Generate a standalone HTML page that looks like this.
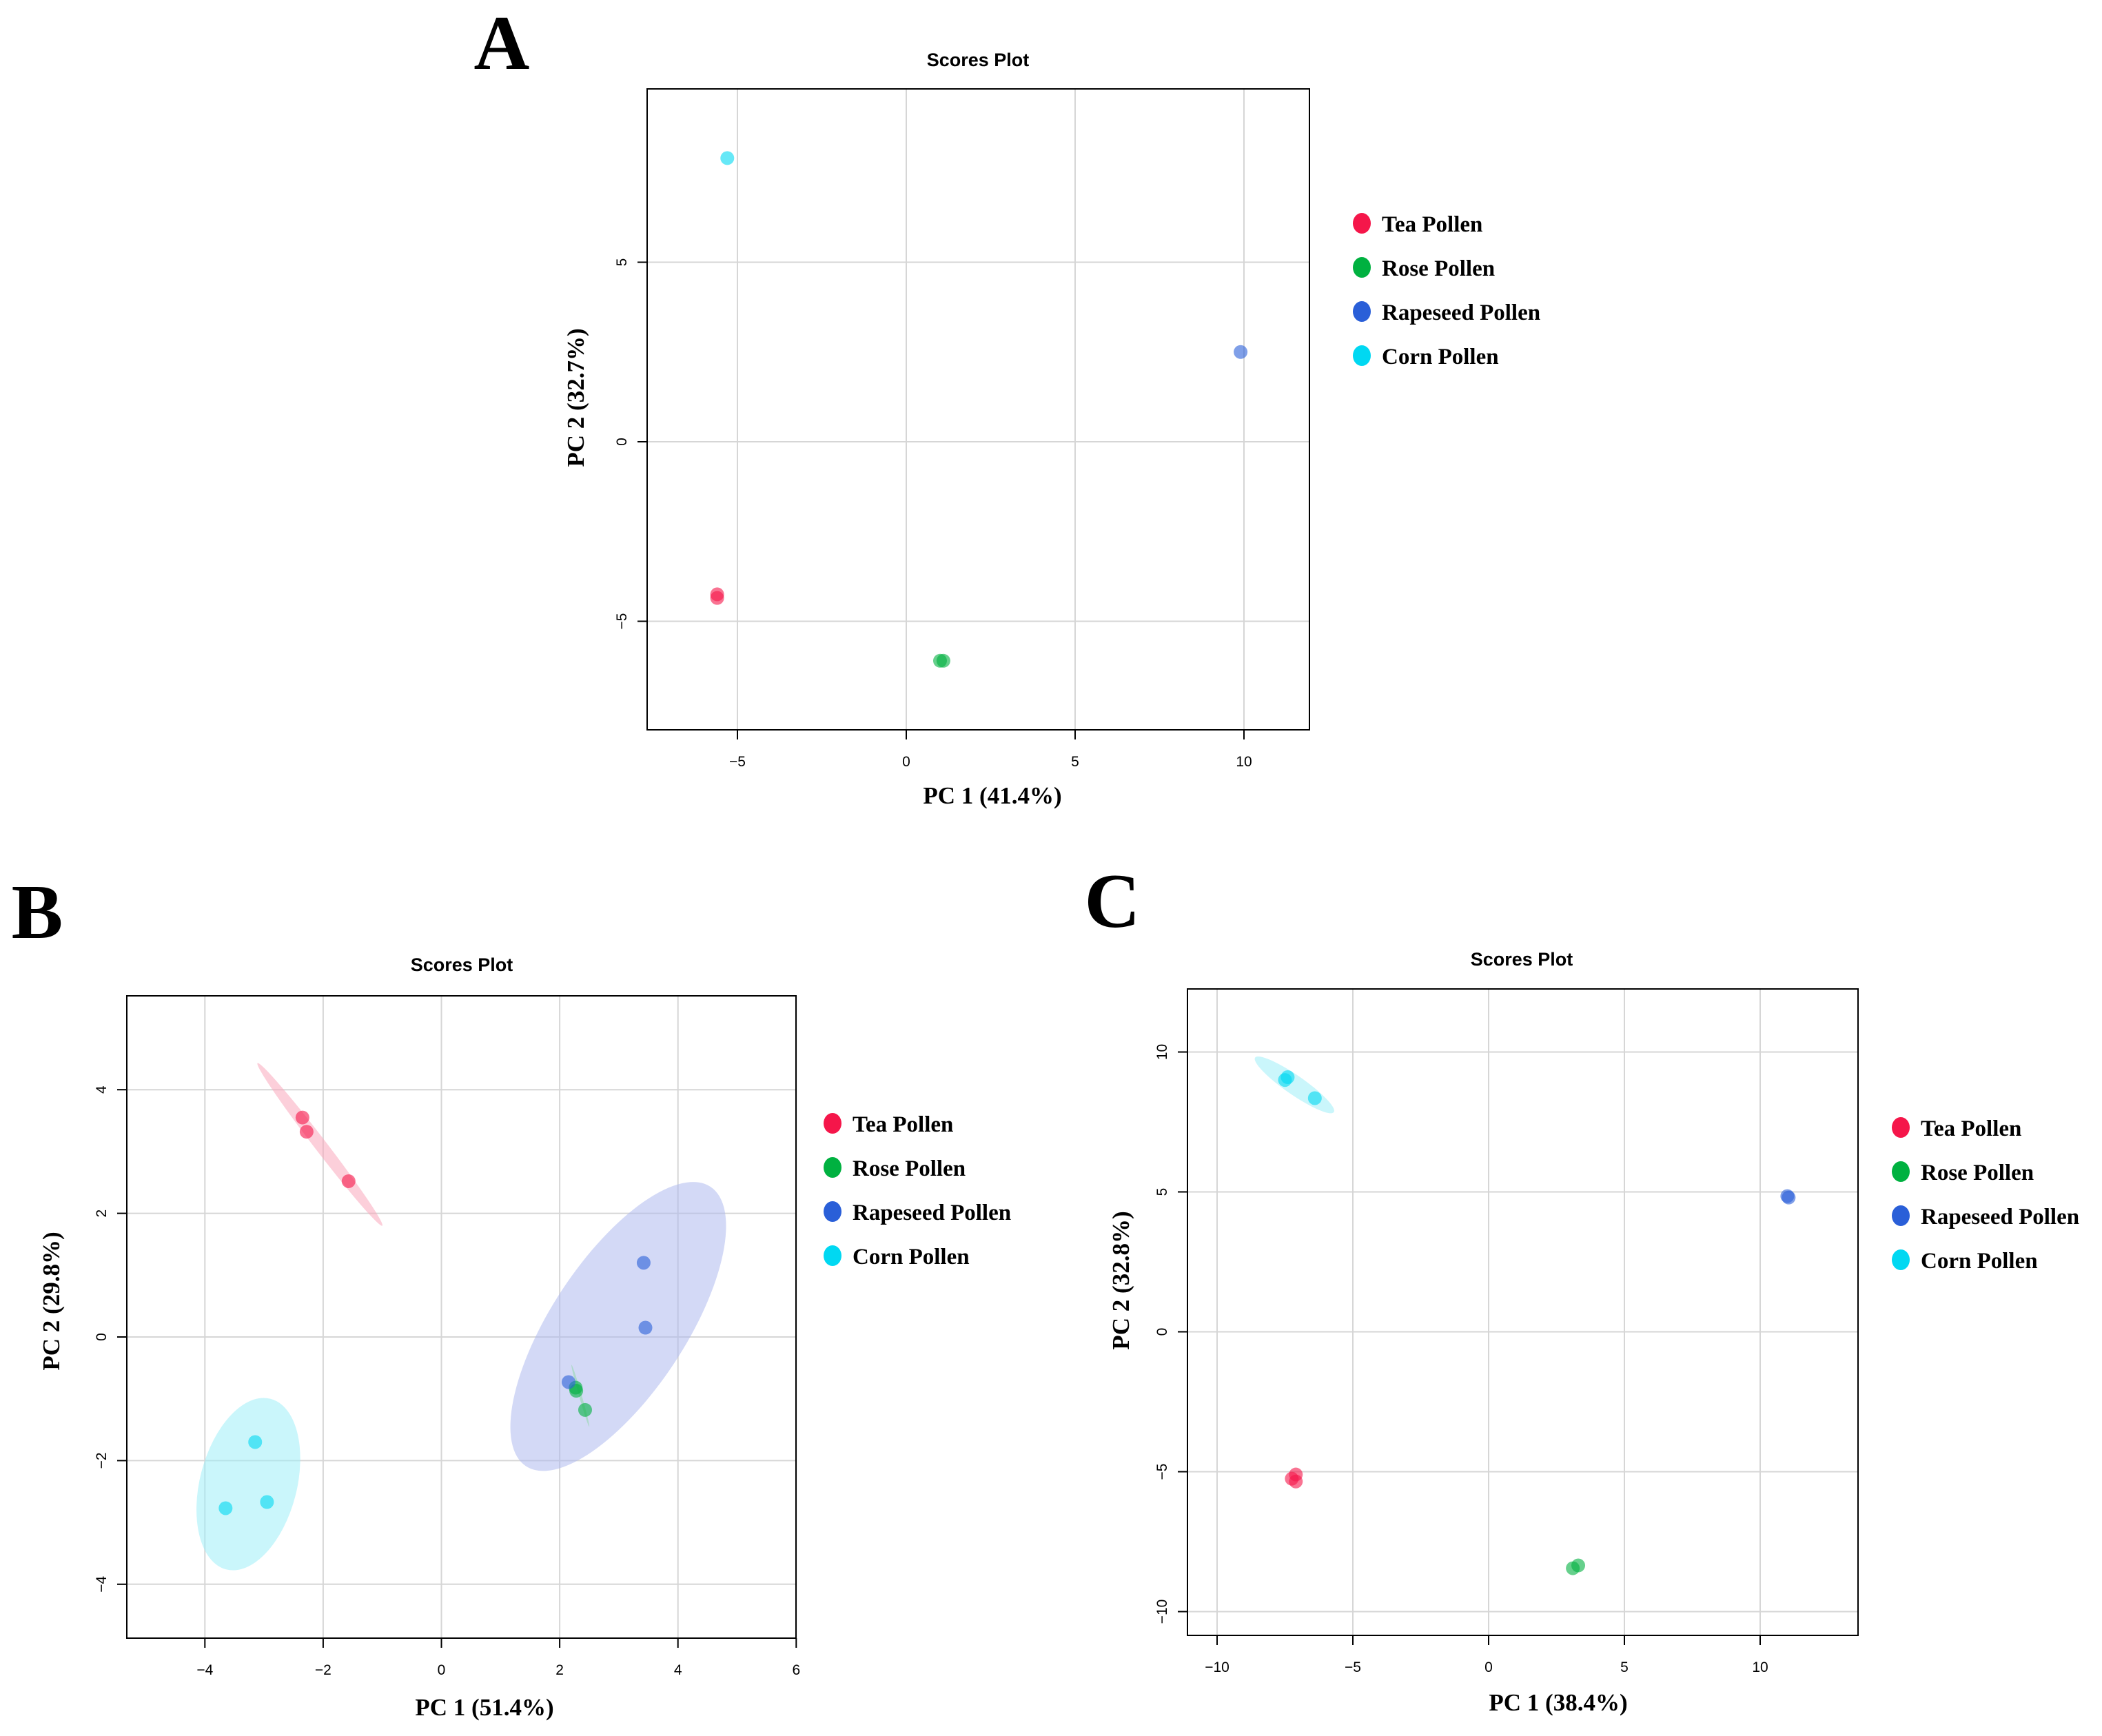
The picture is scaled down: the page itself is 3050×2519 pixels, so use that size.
<!DOCTYPE html>
<html><head><meta charset="utf-8"><style>
body{margin:0;background:#fff;}
svg{display:block;}
.tick{font-family:"Liberation Sans",sans-serif;font-size:21px;fill:#000;}
.ttl{font-family:"Liberation Sans",sans-serif;font-size:27px;font-weight:bold;fill:#000;}
.ax{font-family:"Liberation Serif",serif;font-size:35px;font-weight:bold;fill:#000;}
.leg{font-family:"Liberation Serif",serif;font-size:33px;font-weight:bold;fill:#000;}
.pl{font-family:"Liberation Serif",serif;font-size:112px;font-weight:bold;fill:#000;}
</style></head><body>
<svg id="fig" width="3050" height="2519" xmlns="http://www.w3.org/2000/svg"><g id="root" transform="translate(-3 -4)"></g></svg>
<script>
const groups = ["Tea Pollen","Rose Pollen","Rapeseed Pollen","Corn Pollen"];
const colors = ["#f5164a","#00b140","#2a5fd8","#00d8f2"];
const fills = ["#f9a8bc","#8fd8a8","#aeb9ee","#9eeef8"];

// Panel A data
const aTicksX = [-5,0,5,10];
const aTicksY = [-5,0,5];
const aTea = [[-5.6,-4.25],[-5.6,-4.35]];
const aRose = [[1.0,-6.1],[1.1,-6.1]];
const aRape = [[9.9,2.5]];
const aCorn = [[-5.3,7.9]];

// Panel B data
const bTicksX = [-4,-2,0,2,4,6];
const bTicksY = [-4,-2,0,2,4];
const bTea = [[-2.35,3.55],[-2.28,3.32],[-1.57,2.52]];
const bRose = [[2.27,-0.82],[2.28,-0.87],[2.43,-1.18]];
const bRape = [[3.42,1.2],[3.45,0.15],[2.15,-0.73]];
const bCorn = [[-3.15,-1.7],[-2.95,-2.67],[-3.65,-2.77]];
// ellipses: [group, x1,y1,x2,y2 (major-axis ends in data), minor/major ratio]
const bEllipses = [[2,4.55,2.43,1.43,-2.09,0.4],[0,-3.11,4.43,-1.0,1.8,0.06],[3,-2.89,-1.0,-3.64,-3.76,0.55],[1,2.2,-0.45,2.5,-1.45,0.04]];

// Panel C data
const cTicksX = [-10,-5,0,5,10];
const cTicksY = [-10,-5,0,5,10];
const cTea = [[-7.1,-5.1],[-7.25,-5.25],[-7.1,-5.35]];
const cRose = [[3.3,-8.35],[3.1,-8.45]];
const cRape = [[11.05,4.8],[11.0,4.85]];
const cCorn = [[-7.4,9.1],[-7.5,9.0],[-6.4,8.35]];
const cEllipses = [[3,-8.6,9.8,-5.7,7.85,0.2]];

const NS="http://www.w3.org/2000/svg";
const svg=document.getElementById('root');
function mk(tag,attrs,parent,text){const e=document.createElementNS(NS,tag);for(const k in attrs)e.setAttribute(k,attrs[k]);if(text!==undefined)e.textContent=text;(parent||svg).appendChild(e);return e;}

function panel(cfg){
  const g=mk('g',{});
  
  
  const X=v=>cfg.x0+cfg.sx*v, Y=v=>cfg.y0-cfg.sy*v;
  const [L,R,T,B]=cfg.box;
  cfg.tx.forEach(v=>{const l=mk('line',{x1:X(v),x2:X(v),y1:T,y2:B,stroke:'#d6d6d6','stroke-width':2},g);
    });
  cfg.ty.forEach(v=>{const l=mk('line',{x1:L,x2:R,y1:Y(v),y2:Y(v),stroke:'#d6d6d6','stroke-width':2},g);
    });
  (cfg.ell||[]).forEach(e=>{
    const x1=X(e[1]),y1=Y(e[2]),x2=X(e[3]),y2=Y(e[4]);
    const cx=(x1+x2)/2,cy=(y1+y2)/2,a=Math.hypot(x2-x1,y2-y1)/2,ang=Math.atan2(y2-y1,x2-x1)*180/Math.PI;
    const el=mk('ellipse',{cx:cx,cy:cy,rx:a,ry:Math.max(a*e[5],2),fill:fills[e[0]],'fill-opacity':0.55,transform:`rotate(${ang} ${cx} ${cy})`},g);
    
    
  });
  cfg.series.forEach((s,i)=>s.forEach(p=>{
    const c=mk('circle',{cx:X(p[0]),cy:Y(p[1]),r:10,fill:colors[i],'fill-opacity':0.6},g);
    
    
  }));
  const bx=mk('rect',{x:L,y:T,width:R-L,height:B-T,fill:'none',stroke:'#000','stroke-width':2},g);
  
  cfg.tx.forEach(v=>{mk('line',{x1:X(v),x2:X(v),y1:B,y2:B+14,stroke:'#000','stroke-width':2},g);
    const t=mk('text',{x:X(v),y:B+53,'text-anchor':'middle',class:'tick'},g,String(v).replace('-','−'));
    });
  cfg.ty.forEach(v=>{mk('line',{x1:L,x2:L-14,y1:Y(v),y2:Y(v),stroke:'#000','stroke-width':2},g);
    const t=mk('text',{x:0,y:0,'text-anchor':'middle',class:'tick',transform:`translate(${L-30} ${Y(v)}) rotate(-90)`},g,String(v).replace('-','−'));
    });
  const tt=mk('text',{x:cfg.title[0],y:cfg.title[1],'text-anchor':'middle',class:'ttl'},g,'Scores Plot');
  
  const xt=mk('text',{x:cfg.xl[0],y:cfg.xl[1],'text-anchor':'middle',class:'ax'},g,cfg.xlab);
  
  const yt=mk('text',{x:0,y:0,'text-anchor':'middle',class:'ax',transform:`translate(${cfg.yl[0]} ${cfg.yl[1]}) rotate(-90)`},g,cfg.ylab);
  
  const pl=mk('text',{x:cfg.lab[0],y:cfg.lab[1],'text-anchor':'middle',class:'pl'},g,cfg.id);
  
  groups.forEach((n,i)=>{
    const lg=mk('g',{},g);
    
    const y=cfg.leg[1]+i*cfg.leg[2];
    mk('ellipse',{cx:cfg.leg[0],cy:y,rx:13,ry:15,fill:colors[i]},lg);
    mk('text',{x:cfg.leg[0]+29,y:y+12,class:'leg'},lg,n);
  });
}

panel({id:'A',box:[942,1903,133,1063],x0:1318,sx:49,y0:645,sy:52.1,tx:aTicksX,ty:aTicksY,
  series:[aTea,aRose,aRape,aCorn],title:[1422,100],xl:[1443,1170],xlab:'PC 1 (41.4%)',yl:[850,581],ylab:'PC 2 (32.7%)',
  lab:[731,104],leg:[1979,328,64]});
panel({id:'B',box:[187,1158,1449,2381],x0:643.5,sx:85.8,y0:1944,sy:89.7,tx:bTicksX,ty:bTicksY,ell:bEllipses,
  series:[bTea,bRose,bRape,bCorn],title:[673,1413],xl:[706,2493],xlab:'PC 1 (51.4%)',yl:[89,1892],ylab:'PC 2 (29.8%)',
  lab:[57,1365],leg:[1211,1634,64]});
panel({id:'C',box:[1726,2699,1439,2377],x0:2163,sx:39.4,y0:1936.5,sy:40.6,tx:cTicksX,ty:cTicksY,ell:cEllipses,
  series:[cTea,cRose,cRape,cCorn],title:[2211,1405],xl:[2264,2486],xlab:'PC 1 (38.4%)',yl:[1641,1862],ylab:'PC 2 (32.8%)',
  lab:[1617,1349],leg:[2761,1640,64]});
</script>
</body></html>
